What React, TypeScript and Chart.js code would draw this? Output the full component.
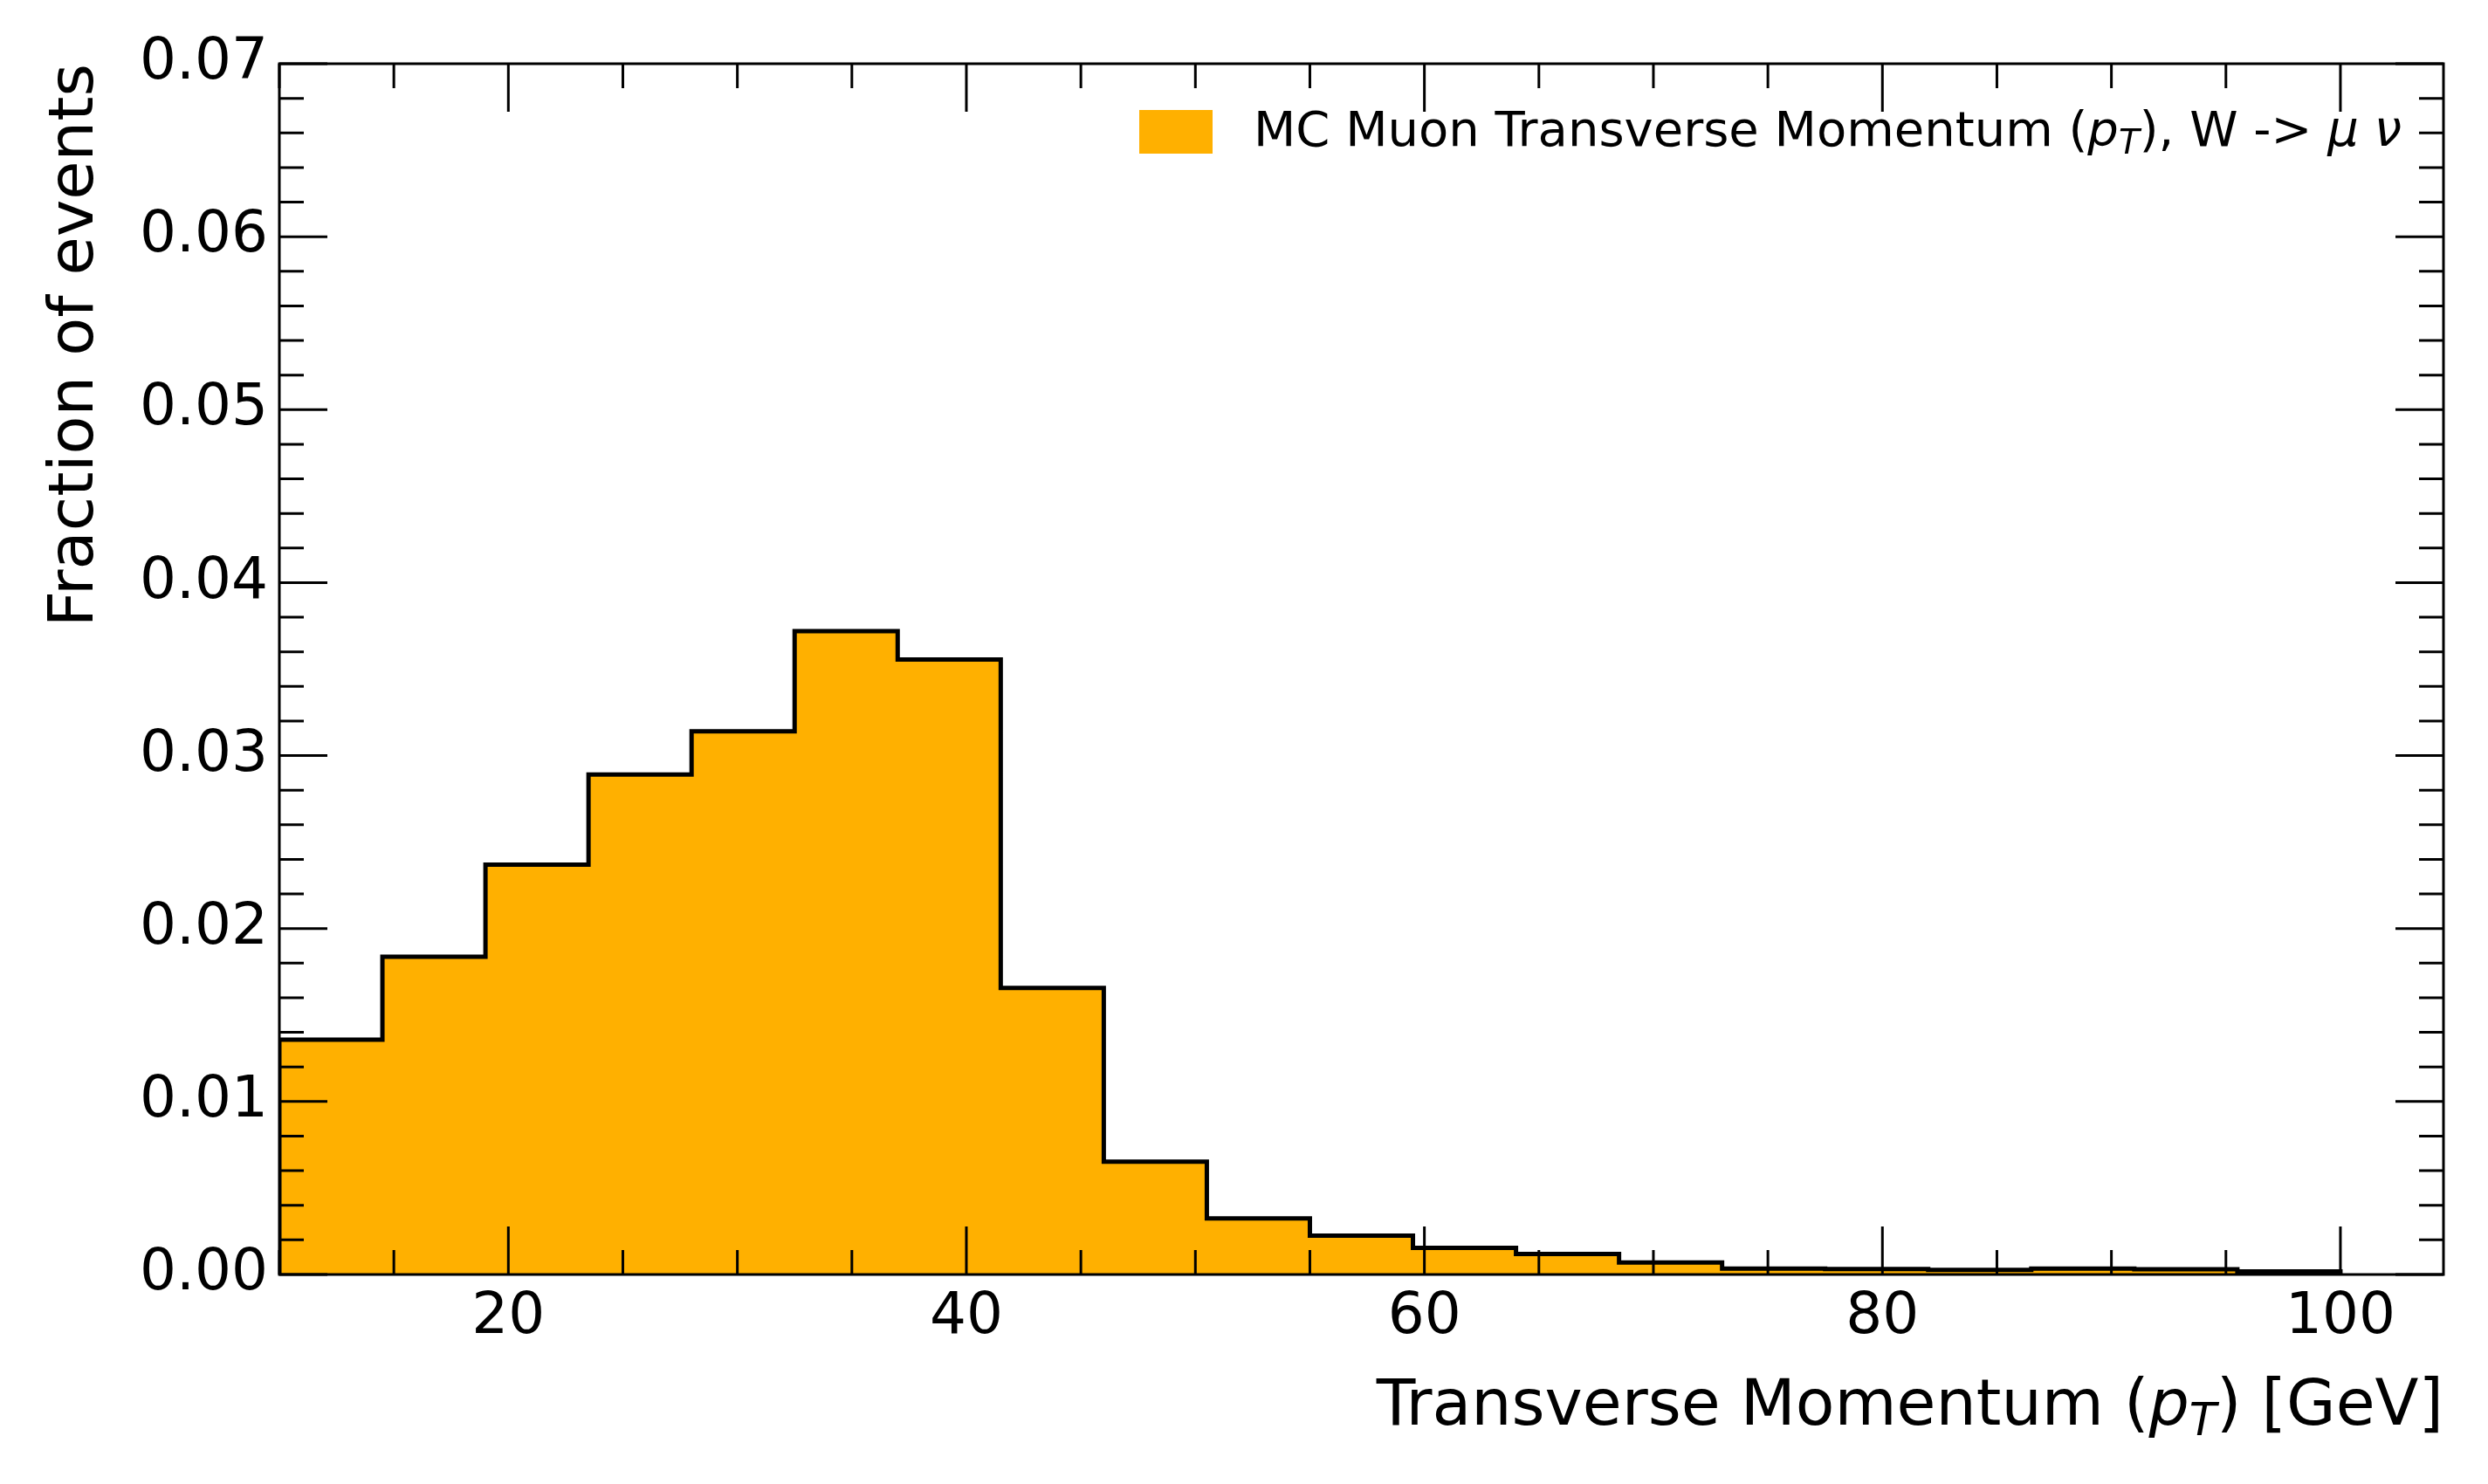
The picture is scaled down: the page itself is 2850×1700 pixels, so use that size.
import React, { useEffect, useRef } from "react";
import { Chart, registerables } from "chart.js";

Chart.register(...registerables);

// ---- data ----
const BIN_EDGES = [10, 14.5, 19, 23.5, 28, 32.5, 37, 41.5, 46, 50.5, 55, 59.5, 64, 68.5, 73, 77.5, 82, 86.5, 91, 95.5, 100];
const FRACTIONS = [
  0.01357, 0.01837, 0.02369, 0.0289, 0.0314, 0.03719, 0.03556, 0.01657, 0.00652, 0.00324,
  0.00224, 0.00154, 0.00119, 0.00069, 0.000335, 0.00032, 0.00026, 0.000335, 0.0003, 0.00018,
];
const X_TICKS = [20, 40, 60, 80, 100];
const Y_TICKS = [0, 0.01, 0.02, 0.03, 0.04, 0.05, 0.06, 0.07];
const X_MIN = 10;
const X_MAX = 104.5;
const Y_MIN = 0;
const Y_MAX = 0.07;
const X_MINOR_STEP = 5;
const Y_MINOR_STEP = 0.002;

const SERIES_LABEL = "MC Muon Transverse Momentum";
const X_TITLE = "Transverse Momentum";
const Y_TITLE = "Fraction of events";

const FILL = "#FFB000";
const FONT = "'DejaVu Sans'";

type Seg = { t: string; it?: boolean; sub?: boolean };

function drawRich(ctx: CanvasRenderingContext2D, segs: Seg[], x: number, y: number, size: number, align: "left" | "right") {
  const fontFor = (s: Seg) => `${s.it ? "italic " : ""}${s.sub ? Math.round(size * 0.7) : size}px ${FONT}`;
  let total = 0;
  for (const s of segs) {
    ctx.font = fontFor(s);
    total += ctx.measureText(s.t).width;
  }
  let cx = align === "right" ? x - total : x;
  ctx.textAlign = "left";
  ctx.textBaseline = "alphabetic";
  for (const s of segs) {
    ctx.font = fontFor(s);
    ctx.fillText(s.t, cx, s.sub ? y + size * 0.16 : y);
    cx += ctx.measureText(s.t).width;
  }
}

const decoPlugin = {
  id: "deco",
  afterDatasetsDraw(chart: any) {
    const ctx: CanvasRenderingContext2D = chart.ctx;
    const { left, right, top, bottom } = chart.chartArea;
    const xs = chart.scales.x;
    const ys = chart.scales.y;
    ctx.save();
    ctx.strokeStyle = "#000";
    ctx.lineWidth = 3;
    ctx.lineCap = "butt";
    // x ticks (inward, bottom and top)
    const nx = Math.round((X_MAX - X_MIN) / X_MINOR_STEP);
    for (let i = 0; i <= nx; i++) {
      const v = X_MIN + i * X_MINOR_STEP;
      if (v > X_MAX) break;
      const major = X_TICKS.some((t) => Math.abs(t - v) < 1e-9);
      const len = major ? 55 : 28;
      const px = xs.getPixelForValue(v);
      ctx.beginPath();
      ctx.moveTo(px, bottom);
      ctx.lineTo(px, bottom - len);
      ctx.moveTo(px, top);
      ctx.lineTo(px, top + len);
      ctx.stroke();
    }
    // y ticks (inward, left and right)
    const ny = Math.round((Y_MAX - Y_MIN) / Y_MINOR_STEP);
    for (let i = 0; i <= ny; i++) {
      const v = Y_MIN + i * Y_MINOR_STEP;
      const major = Y_TICKS.some((t) => Math.abs(t - v) < 1e-9);
      const len = major ? 55 : 28;
      const py = ys.getPixelForValue(v);
      ctx.beginPath();
      ctx.moveTo(left, py);
      ctx.lineTo(left + len, py);
      ctx.moveTo(right, py);
      ctx.lineTo(right - len, py);
      ctx.stroke();
    }
    // spines
    ctx.strokeRect(left, top, right - left, bottom - top);

    // legend
    ctx.fillStyle = FILL;
    ctx.fillRect(1305, 126, 84, 50);
    ctx.fillStyle = "#000";
    drawRich(
      ctx,
      [
        { t: SERIES_LABEL + " (" },
        { t: "p", it: true },
        { t: "T", it: true, sub: true },
        { t: "), W -> " },
        { t: "μ", it: true },
        { t: " " },
        { t: "ν", it: true },
      ],
      1436,
      167,
      56,
      "left"
    );

    // x title
    drawRich(
      ctx,
      [
        { t: X_TITLE + " (" },
        { t: "p", it: true },
        { t: "T", it: true, sub: true },
        { t: ") [GeV]" },
      ],
      right,
      1632,
      73,
      "right"
    );

    // y title
    ctx.save();
    ctx.translate(106, top);
    ctx.rotate(-Math.PI / 2);
    ctx.font = `72px ${FONT}`;
    ctx.textAlign = "right";
    ctx.textBaseline = "alphabetic";
    ctx.fillText(Y_TITLE, 0, 0);
    ctx.restore();

    ctx.restore();
  },
};

export default function App() {
  const ref = useRef<HTMLCanvasElement | null>(null);
  useEffect(() => {
    document.body.style.margin = "0";
    const canvas = ref.current;
    if (!canvas) return;
    const points = [{ x: BIN_EDGES[0], y: 0 }];
    FRACTIONS.forEach((v, i) => points.push({ x: BIN_EDGES[i], y: v }));
    points.push({ x: BIN_EDGES[BIN_EDGES.length - 1], y: FRACTIONS[FRACTIONS.length - 1] });
    points.push({ x: BIN_EDGES[BIN_EDGES.length - 1], y: 0 });

    const chart = new Chart(canvas, {
      type: "line",
      data: {
        datasets: [
          {
            label: SERIES_LABEL,
            data: points,
            stepped: "before",
            fill: "origin",
            backgroundColor: FILL,
            borderColor: "#000",
            borderWidth: 5,
            pointRadius: 0,
            tension: 0,
          },
        ],
      },
      options: {
        responsive: false,
        animation: false,
        devicePixelRatio: 1,
        layout: { padding: { top: 73, right: 51, left: 0, bottom: 0 } },
        plugins: { legend: { display: false }, tooltip: { enabled: false }, title: { display: false } },
        scales: {
          x: {
            type: "linear",
            min: X_MIN,
            max: X_MAX,
            afterBuildTicks: (s: any) => {
              s.ticks = X_TICKS.map((v) => ({ value: v }));
            },
            afterFit: (s: any) => {
              s.height = 240;
            },
            grid: { display: false, drawTicks: false },
            border: { display: false },
            ticks: {
              color: "#000",
              font: { family: "DejaVu Sans", size: 66 },
              padding: 10,
              maxRotation: 0,
              autoSkip: false,
              callback: (v: any) => String(v),
            },
          },
          y: {
            type: "linear",
            min: Y_MIN,
            max: Y_MAX,
            afterBuildTicks: (s: any) => {
              s.ticks = Y_TICKS.map((v) => ({ value: v }));
            },
            afterFit: (s: any) => {
              s.width = 320;
            },
            grid: { display: false, drawTicks: false },
            border: { display: false },
            ticks: {
              color: "#000",
              font: { family: "DejaVu Sans", size: 66 },
              padding: 13,
              autoSkip: false,
              callback: (v: any) => Number(v).toFixed(2),
            },
          },
        },
      },
      plugins: [decoPlugin],
    });
    return () => chart.destroy();
  }, []);
  return (
    <div style={{ width: 2850, height: 1700, position: "relative", background: "#fff" }}>
      <canvas ref={ref} width={2850} height={1700} style={{ width: 2850, height: 1700, display: "block" }} />
    </div>
  );
}
